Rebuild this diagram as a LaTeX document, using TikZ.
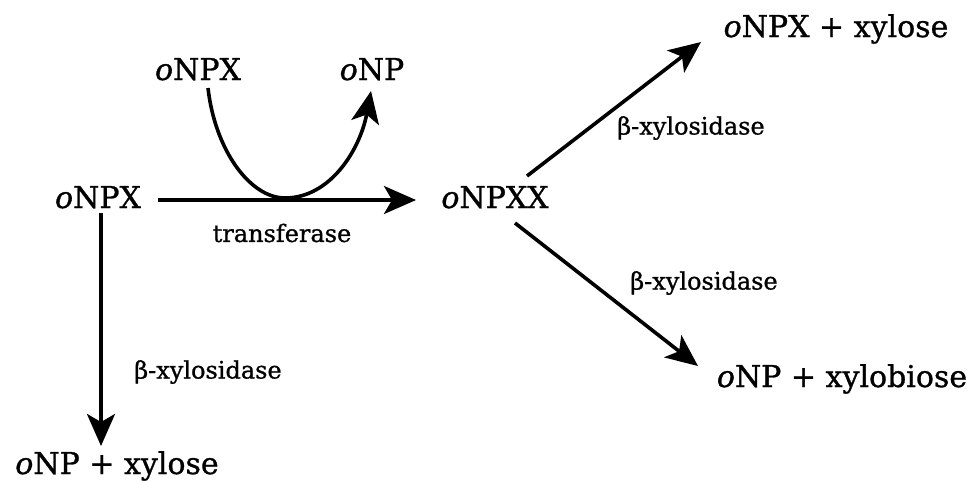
\documentclass[tikz,border=0pt]{standalone}
\usepackage{fontspec}
\setmainfont[FakeBold=1]{DejaVu Serif}
\usetikzlibrary{arrows.meta}
\begin{document}
\begin{tikzpicture}[x=1pt,y=-1pt,
  chem/.style={font=\fontsize{30}{34}\selectfont, inner sep=0pt, anchor=base},
  enz/.style={font=\fontsize{24}{28}\selectfont, inner sep=0pt},
  rxn/.style={line width=3.6pt, -{Stealth[length=32pt,width=28pt,inset=8pt]}}]
  \useasboundingbox (0,0) rectangle (967,480);

  % species
  \node[chem] (src)   at (98,208)  {\textit{o}NPX};
  \node[chem] (donor) at (198,80)  {\textit{o}NPX};
  \node[chem] (rel)   at (372,80)  {\textit{o}NP};
  \node[chem] (dimer) at (495,208) {\textit{o}NPXX};
  \node[chem] (up)    at (836,37)  {\textit{o}NPX + xylose};
  \node[chem] (down)  at (842,387) {\textit{o}NP + xylobiose};
  \node[chem] (hyd)   at (117,474) {\textit{o}NP + xylose};

  % enzymes
  \node[enz] (tf)  at (282,233) {transferase};
  \node[enz] (bx1) at (208,372) {β-xylosidase};
  \node[enz] (bx2) at (691,128) {β-xylosidase};
  \node[enz] (bx3) at (704,283) {β-xylosidase};

  % anchor points on the connectors
  \coordinate (hs) at (158,200);
  \coordinate (he) at (416,200);
  \coordinate (vs) at (101,213);
  \coordinate (ve) at (101,446);
  \coordinate (us) at (527,176);
  \coordinate (ue) at (701,42);
  \coordinate (ds) at (515,223);
  \coordinate (de) at (698,366);
  \coordinate (cs) at (208,88);
  \coordinate (cb) at (285,198);
  \coordinate (ce) at (371,91);

  % reactions
  \draw[rxn] (hs) -- (he);
  \draw[rxn] (vs) -- (ve);
  \draw[rxn] (us) -- (ue);
  \draw[rxn] (ds) -- (de);
  \draw[line width=3.6pt] (cs) .. controls (215,150) and (250,198) .. (cb);
  \draw[rxn] (cb) .. controls (330,198) and (360,150) .. (ce);
\end{tikzpicture}
\end{document}
